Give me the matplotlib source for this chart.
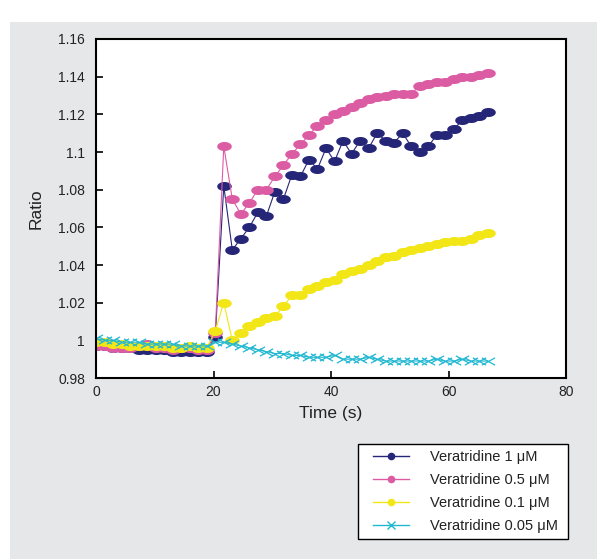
import numpy as np
import matplotlib
matplotlib.use("Agg")
import matplotlib.pyplot as plt
from matplotlib.path import Path
from matplotlib.lines import Line2D
from matplotlib.patches import Rectangle

plt.rcParams['font.family'] = ['Liberation Sans', 'DejaVu Sans']

# sample times (s)
time = [0.0, 1.45, 2.9, 4.35, 5.8, 7.25, 8.7, 10.15, 11.6, 13.05, 14.5, 15.95,
        17.4, 18.85, 20.3, 21.75, 23.2, 24.65, 26.1, 27.55, 29.0, 30.45, 31.9,
        33.35, 34.8, 36.25, 37.7, 39.15, 40.6, 42.05, 43.5, 44.95, 46.4, 47.85,
        49.3, 50.75, 52.2, 53.65, 55.1, 56.55, 58.0, 59.45, 60.9, 62.35, 63.8,
        65.25, 66.7]

vera_1 = [0.997, 0.997, 0.996, 0.996, 0.996, 0.995, 0.995, 0.995, 0.995, 0.994,
          0.994, 0.994, 0.994, 0.994, 1.002,
          1.082, 1.048, 1.054, 1.060, 1.068, 1.066, 1.079, 1.075, 1.088, 1.087,
          1.096, 1.091, 1.102, 1.095, 1.106, 1.099, 1.106, 1.102, 1.110, 1.106,
          1.105, 1.110, 1.103, 1.100, 1.103, 1.109, 1.109, 1.112, 1.117, 1.118,
          1.119, 1.121]

vera_05 = [0.997, 0.997, 0.996, 0.996, 0.996, 0.997, 0.998, 0.996, 0.996, 0.995,
           0.996, 0.996, 0.995, 0.995, 1.004,
           1.103, 1.075, 1.067, 1.073, 1.080, 1.080, 1.087, 1.093, 1.099, 1.104,
           1.109, 1.114, 1.117, 1.120, 1.122, 1.124, 1.126, 1.128, 1.129, 1.130,
           1.131, 1.131, 1.131, 1.135, 1.136, 1.137, 1.137, 1.139, 1.140, 1.140,
           1.141, 1.142]

vera_01 = [0.999, 0.999, 0.998, 0.998, 0.997, 0.997, 0.997, 0.997, 0.997, 0.996,
           0.996, 0.997, 0.996, 0.996, 1.005,
           1.020, 1.000, 1.004, 1.0075, 1.010, 1.012, 1.013, 1.018, 1.024, 1.024,
           1.027, 1.029, 1.031, 1.032, 1.035, 1.037, 1.038, 1.040, 1.042, 1.044,
           1.045, 1.047, 1.048, 1.049, 1.050, 1.051, 1.052, 1.053, 1.053, 1.054,
           1.056, 1.057]

vera_005 = [1.001, 1.000, 1.000, 0.999, 0.999, 0.999, 0.998, 0.998, 0.998, 0.998,
            0.997, 0.997, 0.997, 0.997, 0.999,
            0.999, 0.998, 0.997, 0.996, 0.995, 0.994, 0.993, 0.993, 0.992, 0.992,
            0.991, 0.991, 0.991, 0.992, 0.990, 0.990, 0.990, 0.991, 0.990, 0.989,
            0.989, 0.989, 0.989, 0.989, 0.989, 0.990, 0.989, 0.989, 0.990, 0.989,
            0.989, 0.989]

labels = ['Veratridine 1 \u03bcM', 'Veratridine 0.5 \u03bcM',
          'Veratridine 0.1 \u03bcM', 'Veratridine 0.05 \u03bcM']
colors = ['#262678', '#dc5ca4', '#f2e616', '#22b8d2']

# flattened marker shapes
th = np.linspace(0, 2 * np.pi, 40)
ellipse = Path(np.column_stack([np.cos(th), 0.62 * np.sin(th)]), closed=True)
flat_x = Path([(-1, -0.55), (1, 0.55), (-1, 0.55), (1, -0.55)],
              [Path.MOVETO, Path.LINETO, Path.MOVETO, Path.LINETO])

fig = plt.figure(figsize=(5.97, 5.59), dpi=100)
fig.patch.set_facecolor('white')
fig.patches.append(Rectangle((10 / 597, 0), 1, 1 - 22 / 559, transform=fig.transFigure,
                             facecolor='#e6e7e8', edgecolor='none', zorder=-10))
# legend frame
fig.patches.append(Rectangle((358 / 597, 1 - 539 / 559), 210 / 597, 95 / 559,
                             transform=fig.transFigure, facecolor='white',
                             edgecolor='black', lw=1.0, zorder=-5))

ax = fig.add_axes([96 / 597, 1 - 378 / 559, 470 / 597, 339 / 559])
ax.set_facecolor('white')

series = [vera_1, vera_05, vera_01]
for vals, c in zip(series, colors[:3]):
    ax.plot(time, vals, color=c, lw=0.8, marker=ellipse, ms=10.5, mew=0, mfc=c)
ax.plot(time, vera_005, color=colors[3], lw=0.8, marker=flat_x, ms=9.5, mew=0.9,
        mec=colors[3])

ax.set_xlim(0, 80)
ax.set_ylim(0.98, 1.16)
ax.set_xticks([0, 20, 40, 60, 80])
ax.set_yticks(np.arange(0.98, 1.161, 0.02))
ax.set_yticklabels(['0.98', '1', '1.02', '1.04', '1.06', '1.08', '1.1', '1.12',
                    '1.14', '1.16'])
ax.tick_params(axis='both', direction='in', length=5, width=1.2, labelsize=10,
               colors='black', labelcolor='#222222')
ax.tick_params(axis='y', pad=8)
ax.tick_params(axis='x', pad=5)
for s in ax.spines.values():
    s.set_linewidth(1.5)
    s.set_color('black')

ax.set_xlabel('Time (s)', fontsize=12.5, color='#222222', labelpad=5)
ax.set_ylabel('Ratio', fontsize=12.5, color='#222222', labelpad=10)

handles = []
for i, c in enumerate(colors):
    if i < 3:
        handles.append(Line2D([], [], color=c, lw=1, marker='o', ms=5.5, mew=0))
    else:
        handles.append(Line2D([], [], color=c, lw=1, marker='x', ms=6, mew=1))
leg = fig.legend(handles, labels, loc='upper left',
                 bbox_to_anchor=(373 / 597, 1 - 450 / 559),
                 bbox_transform=fig.transFigure, fontsize=10.5, frameon=False,
                 handlelength=2.5, handletextpad=1.4, labelspacing=0.61,
                 borderpad=0, borderaxespad=0)
for t in leg.get_texts():
    t.set_color('#222222')

fig.savefig('out.png', dpi=100, facecolor=fig.get_facecolor())
